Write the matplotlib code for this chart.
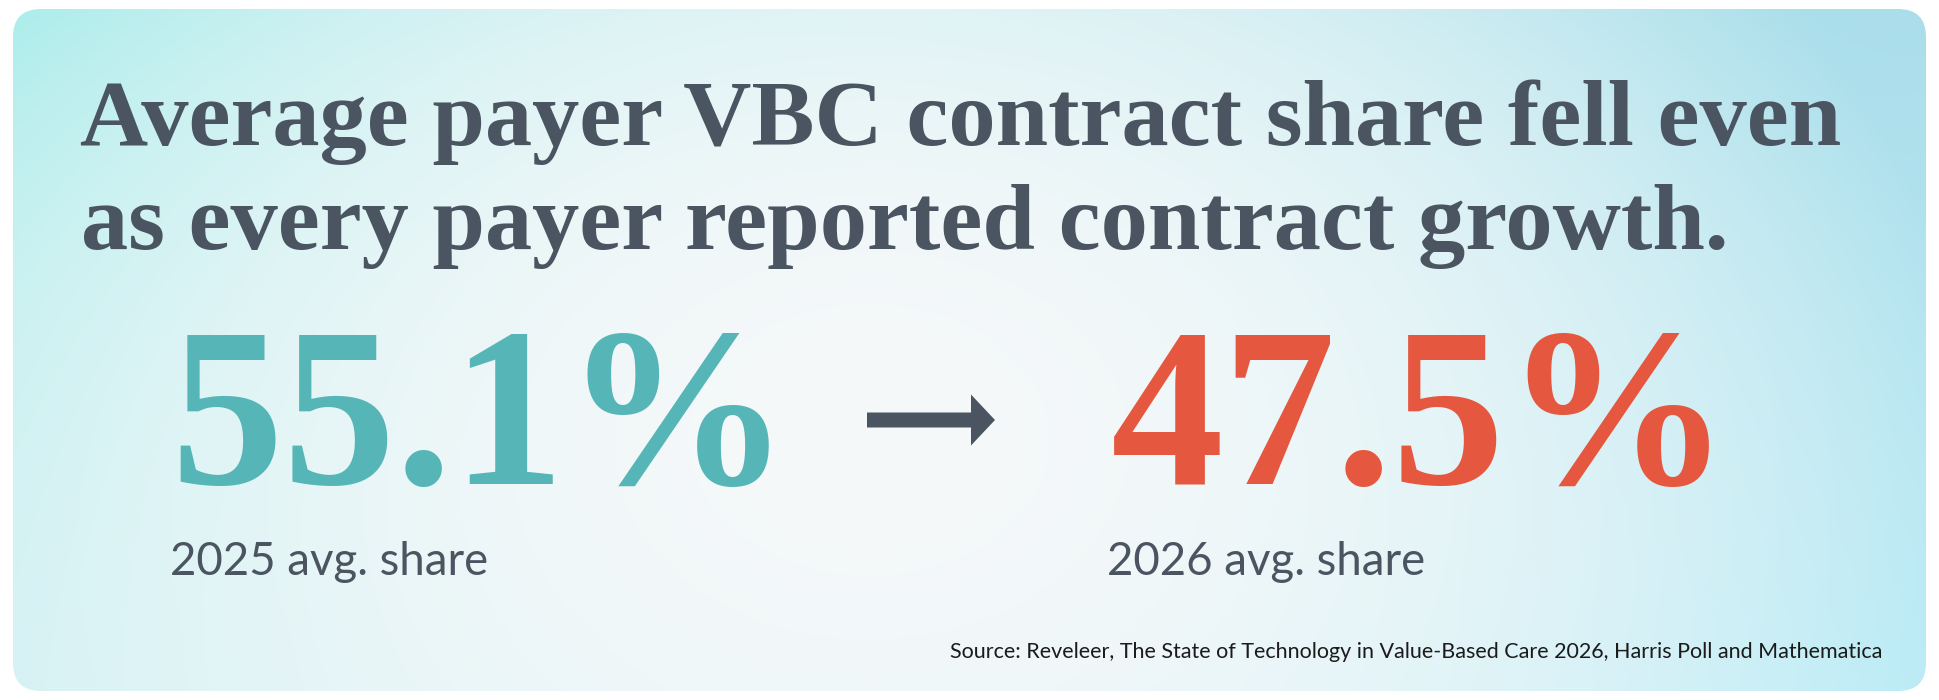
import numpy as np
import matplotlib
matplotlib.use("Agg")
import matplotlib.pyplot as plt
from matplotlib.patches import FancyBboxPatch, FancyArrow

# Data shown on the card
headline = ["Average payer VBC contract share fell even",
            "as every payer reported contract growth."]
years = [2025, 2026]
shares = [55.1, 47.5]
source = ("Source: Reveleer, The State of Technology in Value-Based Care 2026, "
          "Harris Poll and Mathematica")

W, H = 1940, 700
slate = "#4a5561"
teal = "#56b6b7"
red = "#e5573f"

fig = plt.figure(figsize=(W / 100, H / 100), dpi=100)
ax = fig.add_axes([0, 0, 1, 1])
ax.set_xlim(0, W)
ax.set_ylim(H, 0)
ax.axis("off")
fig.patch.set_facecolor("white")

# card background: soft radial gradient, cyan at the edges
x0, x1, y0, y1 = 13, 1926, 9, 691
u, v = np.meshgrid(np.linspace(0, 1, 400), np.linspace(0, 1, 150))
tl = np.array([0.64, 0.925, 0.915])
tr = np.array([0.67, 0.87, 0.92])
bl = np.array([0.80, 0.94, 0.95])
br = np.array([0.74, 0.925, 0.965])
edge = ((1 - u)[..., None] * (1 - v)[..., None] * tl + u[..., None] * (1 - v)[..., None] * tr
        + (1 - u)[..., None] * v[..., None] * bl + u[..., None] * v[..., None] * br)
r = np.sqrt(((u - 0.45) / 0.57) ** 2 + ((v - 0.62) / 1.2) ** 2)
w = np.clip(1 - r ** 2, 0, 1)[..., None]
white = np.array([0.962, 0.974, 0.978])
img = edge * (1 - w) + white * w

card = FancyBboxPatch((x0, y0), x1 - x0, y1 - y0, boxstyle="round,pad=0,rounding_size=28",
                      facecolor="none", edgecolor="none")
ax.add_patch(card)
im = ax.imshow(img, extent=(x0, x1, y1, y0), origin="upper", aspect="auto",
               interpolation="bilinear", zorder=0)
im.set_clip_path(card)

renderer = fig.canvas.get_renderer()


def fit(t, width):
    bb = t.get_window_extent(renderer)
    t.set_fontsize(t.get_fontsize() * width / bb.width)


# headline
serif = ["Liberation Serif", "DejaVu Serif"]
t1 = ax.text(80, 145, headline[0], fontsize=60, family=serif, fontweight="bold",
             color=slate, va="baseline", ha="left")
fit(t1, 1762)
t2 = ax.text(81, 249, headline[1], fontsize=t1.get_fontsize(), family=serif, fontweight="bold",
             color=slate, va="baseline", ha="left")

# big numbers
n1 = ax.text(170, 484, f"{shares[0]:.1f}%", fontsize=150, family=serif, fontweight="bold",
             color=teal, va="baseline", ha="left")
fit(n1, 620)
n2 = ax.text(1111, 484, f"{shares[1]:.1f}%", fontsize=n1.get_fontsize(), family=serif,
             fontweight="bold", color=red, va="baseline", ha="left")

# labels under the numbers
s1 = ax.text(170, 575, f"{years[0]} avg. share", fontsize=30, family="Lato",
             color=slate, va="baseline", ha="left")
fit(s1, 318)
s2 = ax.text(1107, 575, f"{years[1]} avg. share", fontsize=s1.get_fontsize(), family="Lato",
             color=slate, va="baseline", ha="left")

# arrow between the two values
ax.add_patch(FancyArrow(867, 420, 128, 0, width=15, head_width=51, head_length=24,
                        length_includes_head=True, color=slate, linewidth=0))

# source line
src = ax.text(1882, 658, source, fontsize=14, family="Lato", color="#1b1b1b",
              va="baseline", ha="right")
fit(src, 935)

fig.savefig("out.png", dpi=100)
